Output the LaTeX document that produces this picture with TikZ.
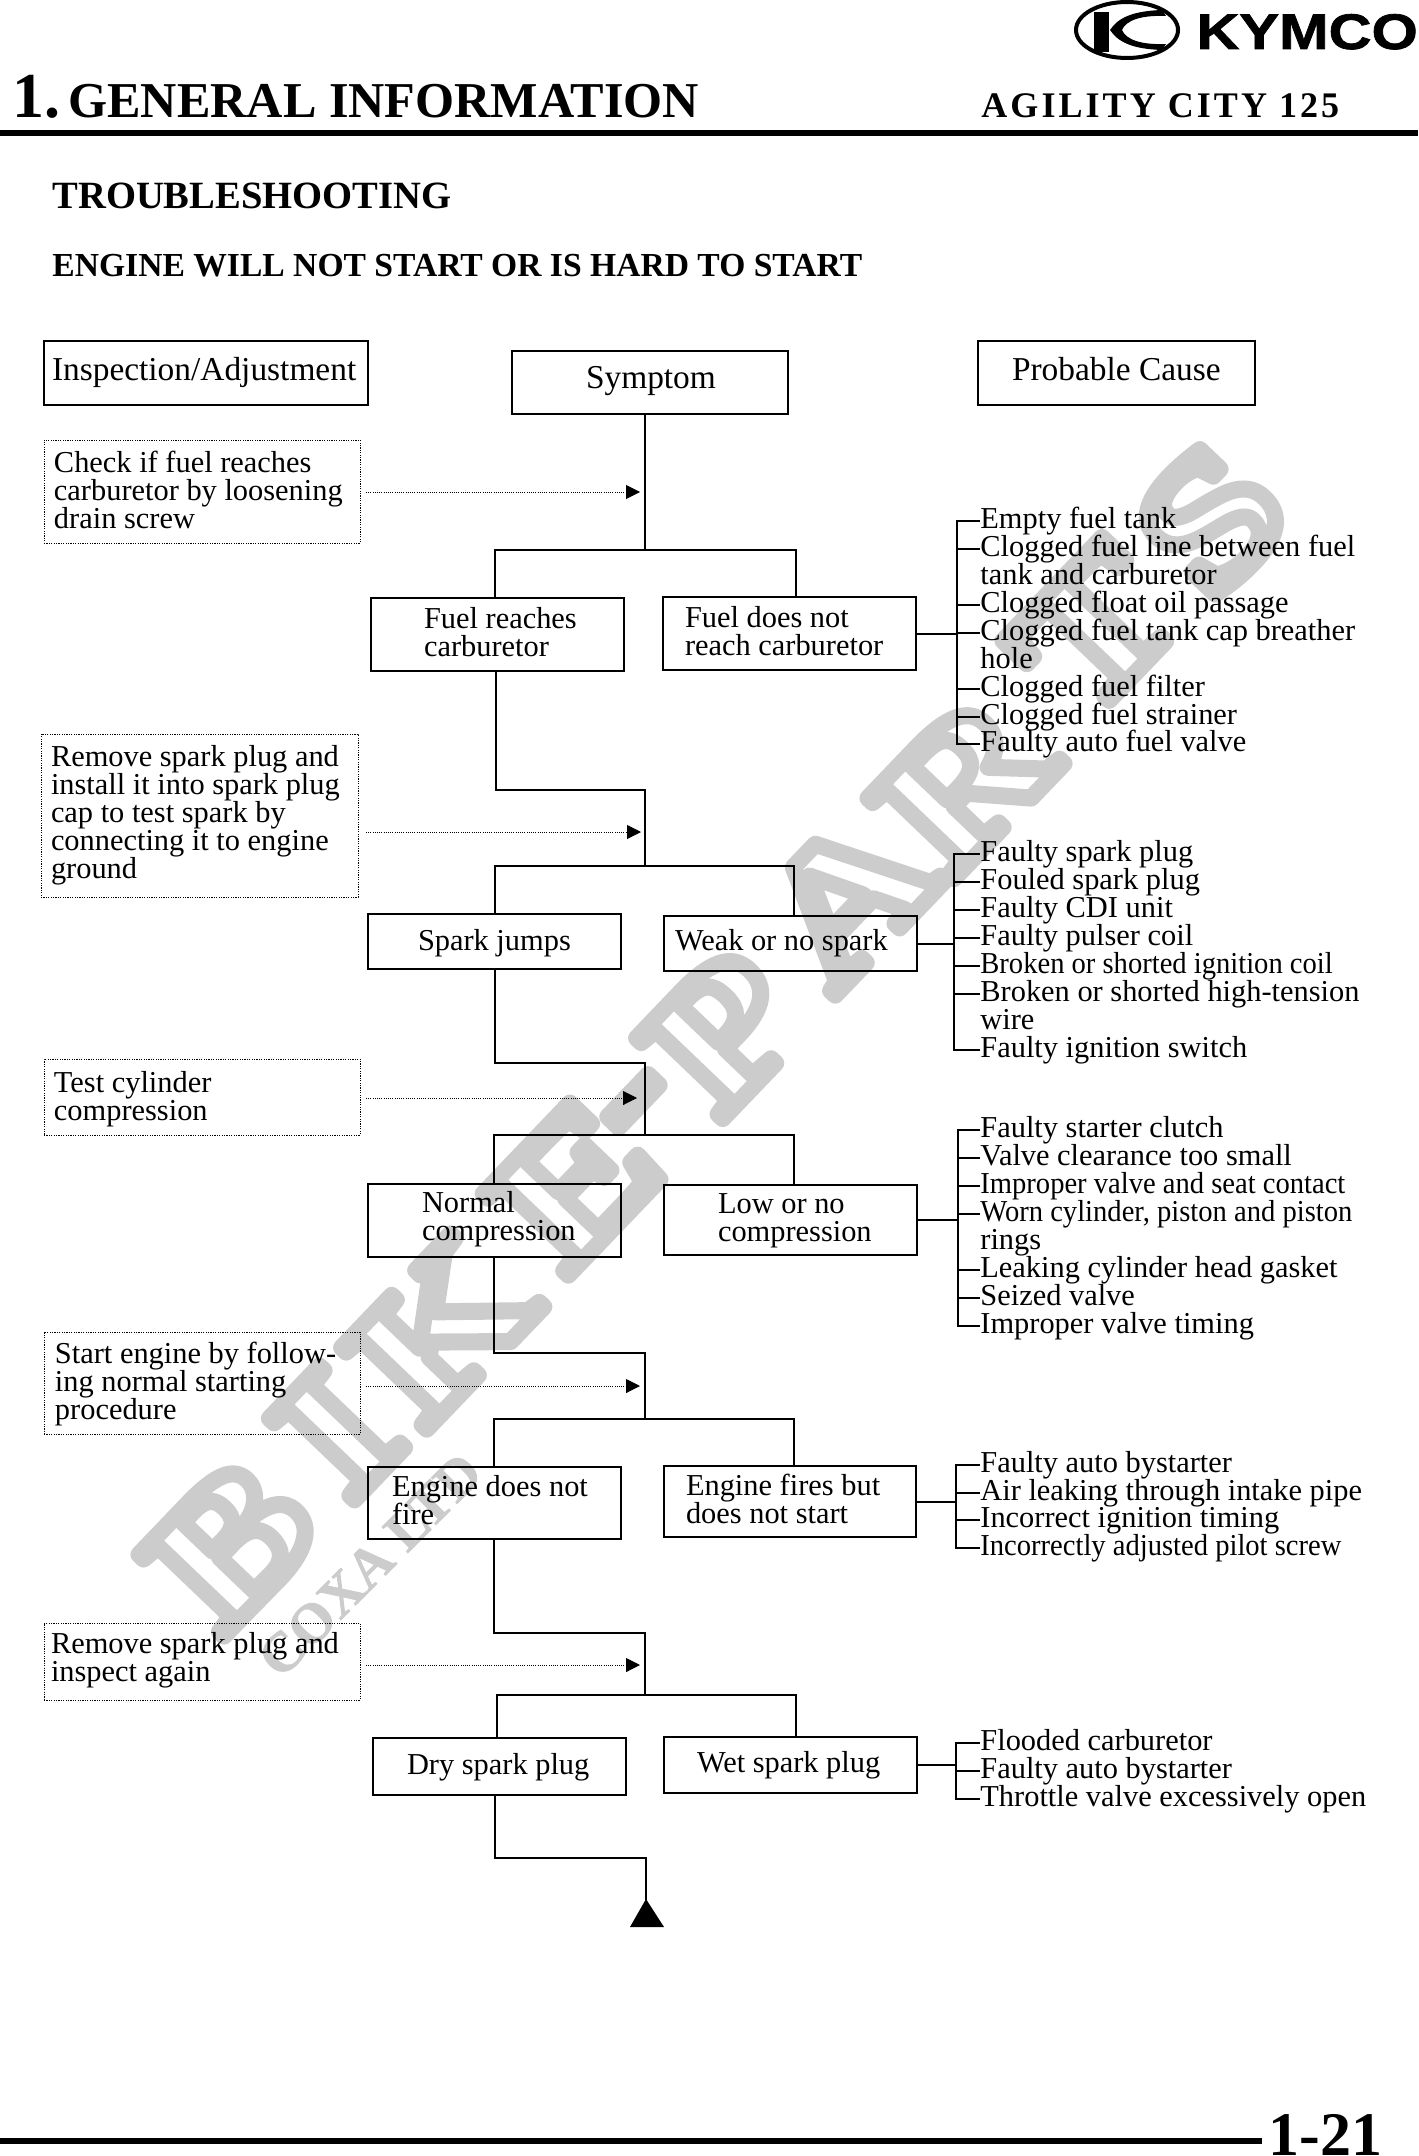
\documentclass[tikz,border=0pt]{standalone}
\usepackage{fontspec}
\usetikzlibrary{arrows.meta}
\setmainfont{Liberation Serif}
\newfontfamily\wmf[FakeStretch=1.25]{Liberation Serif Bold}
\newfontfamily\wsf[FakeBold=1.5]{Liberation Serif Bold}
\newfontfamily\lgf[FakeStretch=1.19,FakeBold=1.5]{Liberation Sans Bold}
\newfontfamily\lsf[LetterSpace=8.5]{Liberation Serif Bold}
\newfontfamily\cmpf[FakeStretch=0.94]{Liberation Serif}
\newcommand\fs{\fontsize{15.2}{14}\selectfont}
\newcommand\fh{\fontsize{16.7}{14}\selectfont}
\newcommand\cmp[1]{{\cmpf\fs #1}}
\definecolor{wmgray}{gray}{0.8}
\tikzset{
 x=0.5pt,y=-0.5pt,
 solidbox/.style={draw=black,line width=1.2pt,font=\fs},
 headbox/.style={draw=black,line width=1.2pt,font=\fh},
 dotbox/.style={draw=black,line width=0.5pt,dash pattern=on 0.6pt off 0.6pt,font=\fs},
 conn/.style={draw=black,line width=1pt,line cap=rect},
 tick/.style={draw=black,line width=0.9pt},
 dotarrow/.style={draw=black,line width=0.5pt,dash pattern=on 0.5pt off 0.6pt,-{Triangle[length=7pt,width=7pt]}},
 cause/.style={anchor=north west,inner sep=0pt,align=left,font=\fs},
 head/.style={anchor=base west,inner sep=0pt,font=\bfseries},
 wmk/.style={inner sep=0pt,rotate=46.25,text=wmgray,font=\wmf\fontsize{90}{90}\selectfont},
}
\newcommand\bx[9]{%
 \pgfmathsetmacro\bxW{(#5-#3)/2}\pgfmathsetmacro\bxH{(#6-#4)/2}%
 \pgfmathsetmacro\bxL{(#7-#3)/2}\pgfmathsetmacro\bxD{(#8-#4)/2}%
 \node[#1,anchor=north west,inner sep=0pt,outer sep=0pt] (#2) at (#3,#4)
  {\parbox[c][\bxH pt][t]{\bxW pt}{\noindent\hspace*{\bxL pt}\parbox[t]{300pt}{\lineskiplimit=-100pt\baselineskip=14pt\rule{0pt}{\bxD pt}#9}}};}
\newcommand\cz[3]{%
 \node[cause] (#1) at (980,{#2-20}) {\rule{0pt}{10.5pt}#3};
 \coordinate (t#1) at ([yshift=-7pt]#1.north west);
 \draw[tick] (t#1) -- (trunk |- t#1);}
\newcommand\wm[4]{\node[wmk] (#1) at (#2,#3) {\special{pdf:code 1 Tr 8.5 w 1 j 1 J 0.8 G}#4\special{pdf:code 0 Tr 1 w 0 j 0 J 0 G}};}
\begin{document}
\begin{tikzpicture}
\useasboundingbox (0,0) rectangle (1418,2156);
% watermark
\wm{wa}{231}{1544}{B}
\wm{wb}{337}{1433}{I}
\wm{wc}{442}{1328}{K}
\wm{wd}{575}{1183}{E}
\wm{we}{646}{1113}{-}
\wm{wf}{724}{1032}{P}
\wm{wg}{847}{897}{A}
\wm{wh}{964}{783}{R}
\wm{wi}{1095}{630}{T}
\wm{wj}{1211}{520}{S}
\node[inner sep=0pt,rotate=45,text=wmgray,font=\wsf\fontsize{28}{28}\selectfont] (wsub) at (370,1565) {COXA LTD};
% logo
\draw[line width=2pt] (1127,30) ellipse [x radius=51,y radius=28];
\fill (1094,12) rectangle (1109,52);
\fill (1110,30) .. controls (1118,18) and (1132,11) .. (1162,10) -- (1166,16) .. controls (1142,15) and (1126,20) .. (1122,30) .. controls (1126,40) and (1142,45) .. (1166,44) -- (1162,50) .. controls (1132,49) and (1118,42) .. (1110,30) -- cycle;
\node[anchor=base west,inner sep=0pt,font=\lgf\fontsize{25}{25}\selectfont] (kymco) at (1196,49) {KYMCO};
% titles
\node[head] (title) at (12,118) {\fontsize{32}{32}\selectfont 1.\hspace{4pt}\fontsize{25.1}{24}\selectfont GENERAL INFORMATION};
\node[anchor=base west,inner sep=0pt,font=\lsf\fontsize{18}{18}\selectfont] (model) at (981,118) {AGILITY CITY 125};
\coordinate (hl) at (0,133); \coordinate (hr) at (1418,133);
\draw[line width=2.7pt] (hl) -- (hr);
\node[head,font=\bfseries\fontsize{19.3}{18}\selectfont] (ts) at (52,209) {TROUBLESHOOTING};
\node[head,font=\bfseries\fontsize{16.8}{16}\selectfont] (en) at (52,277) {ENGINE WILL NOT START OR IS HARD TO START};
% headers
\bx{headbox}{insp}{44}{341}{368}{405}{52}{380}{Inspection/Adjustment}
\bx{headbox}{sym}{512}{351}{788}{414}{586}{388}{Symptom}
\bx{headbox}{prob}{978}{341}{1255}{405}{1012}{380}{Probable Cause}
% inspections
\bx{dotbox}{d1}{44}{440}{360}{543}{54}{472}{Check if fuel reaches\\carburetor by loosening\\drain screw}
\bx{dotbox}{d2}{41}{734}{358}{897}{51}{766}{Remove spark plug and\\install it into spark plug\\cap to test spark by\\connecting it to engine\\ground}
\bx{dotbox}{d3}{44}{1059}{360}{1135}{54}{1092}{Test cylinder\\compression}
\bx{dotbox}{d4}{44}{1332}{360}{1434}{55}{1363}{Start engine by follow-\\ing normal starting\\procedure}
\bx{dotbox}{d5}{44}{1623}{360}{1700}{51}{1653}{Remove spark plug and\\inspect again}
% symptoms
\bx{solidbox}{a1}{371}{598}{624}{671}{424}{628}{Fuel reaches\\carburetor}
\bx{solidbox}{b1}{663}{597}{916}{670}{685}{627}{Fuel does not\\reach carburetor}
\bx{solidbox}{a2}{368}{914}{621}{969}{418}{950}{Spark jumps}
\bx{solidbox}{b2}{664}{916}{917}{971}{675}{950}{Weak or no spark}
\bx{solidbox}{a3}{368}{1184}{621}{1257}{422}{1212}{Normal\\compression}
\bx{solidbox}{b3}{664}{1185}{917}{1255}{718}{1213}{Low or no\\compression}
\bx{solidbox}{a4}{368}{1467}{621}{1539}{392}{1496}{Engine does not\\fire}
\bx{solidbox}{b4}{664}{1466}{916}{1537}{686}{1495}{Engine fires but\\does not start}
\bx{solidbox}{a5}{373}{1738}{626}{1795}{407}{1774}{Dry spark plug}
\bx{solidbox}{b5}{664}{1737}{917}{1793}{697}{1772}{Wet spark plug}
% flow
\coordinate (m1) at (645,550); \coordinate (l1) at (495,550); \coordinate (r1) at (796,550);
\draw[conn] (m1 |- sym.south) -- (m1);
\draw[conn] (l1 |- a1.north) -- (l1) -- (r1) -- (r1 |- b1.north);
\coordinate (p2) at (496,790); \coordinate (m2) at (645,866); \coordinate (l2) at (495,866); \coordinate (r2) at (794,866);
\draw[conn] (p2 |- a1.south) -- (p2) -- (m2 |- p2) -- (m2);
\draw[conn] (l2 |- a2.north) -- (l2) -- (r2) -- (r2 |- b2.north);
\coordinate (p3) at (495,1063); \coordinate (m3) at (645,1135); \coordinate (l3) at (494,1135); \coordinate (r3) at (794,1135);
\draw[conn] (p3 |- a2.south) -- (p3) -- (m3 |- p3) -- (m3);
\draw[conn] (l3 |- a3.north) -- (l3) -- (r3) -- (r3 |- b3.north);
\coordinate (p4) at (494,1353); \coordinate (m4) at (645,1419); \coordinate (l4) at (494,1419); \coordinate (r4) at (794,1419);
\draw[conn] (p4 |- a3.south) -- (p4) -- (m4 |- p4) -- (m4);
\draw[conn] (l4 |- a4.north) -- (l4) -- (r4) -- (r4 |- b4.north);
\coordinate (p5) at (494,1633); \coordinate (m5) at (645,1695); \coordinate (l5) at (497,1695); \coordinate (r5) at (796,1695);
\draw[conn] (p5 |- a4.south) -- (p5) -- (m5 |- p5) -- (m5);
\draw[conn] (l5 |- a5.north) -- (l5) -- (r5) -- (r5 |- b5.north);
\coordinate (p6) at (495,1858); \coordinate (apex) at (646,1899);
\draw[conn] (p6 |- a5.south) -- (p6) -- (apex |- p6) -- (apex);
\fill (apex) -- (630,1927) -- (664,1927) -- cycle;
% dotted arrows
\coordinate (e1) at (640,492); \coordinate (e2) at (641,832); \coordinate (e3) at (637,1098); \coordinate (e4) at (640,1386); \coordinate (e5) at (640,1665);
\draw[dotarrow] ([xshift=3pt]d1.east |- e1) -- (e1);
\draw[dotarrow] ([xshift=4pt]d2.east |- e2) -- (e2);
\draw[dotarrow] ([xshift=3pt]d3.east |- e3) -- (e3);
\draw[dotarrow] ([xshift=3pt]d4.east |- e4) -- (e4);
\draw[dotarrow] ([xshift=3pt]d5.east |- e5) -- (e5);
% cause group 1
\coordinate (trunk) at (957,0);
\cz{c1}{527}{Empty fuel tank}
\cz{c2}{555}{Clogged fuel line between fuel\\tank and carburetor}
\cz{c3}{611}{Clogged float oil passage}
\cz{c4}{639}{Clogged fuel tank cap breather\\hole}
\cz{c5}{695}{Clogged fuel filter}
\cz{c6}{723}{Clogged fuel strainer}
\cz{c7}{750}{Faulty auto fuel valve}
\draw[conn] (trunk |- tc1) -- (trunk |- tc7);
\draw[conn] (b1.east) -- (trunk |- b1.east);
% cause group 2
\coordinate (trunk) at (954,0);
\cz{f1}{860}{Faulty spark plug}
\cz{f2}{888}{Fouled spark plug}
\cz{f3}{916}{Faulty CDI unit}
\cz{f4}{944}{Faulty pulser coil}
\cz{f5}{972}{\cmp{Broken or shorted ignition coil}}
\cz{f6}{1000}{Broken or shorted high-tension\\wire}
\cz{f7}{1056}{Faulty ignition switch}
\draw[conn] (trunk |- tf1) -- (trunk |- tf7);
\draw[conn] (b2.east) -- (trunk |- b2.east);
% cause group 3
\coordinate (trunk) at (958,0);
\cz{g1}{1136}{Faulty starter clutch}
\cz{g2}{1164}{Valve clearance too small}
\cz{g3}{1192}{\cmp{Improper valve and seat contact}}
\cz{g4}{1220}{\cmp{Worn cylinder, piston and piston}\\rings}
\cz{g5}{1276}{Leaking cylinder head gasket}
\cz{g6}{1304}{Seized valve}
\cz{g7}{1332}{Improper valve timing}
\draw[conn] (trunk |- tg1) -- (trunk |- tg7);
\draw[conn] (b3.east) -- (trunk |- b3.east);
% cause group 4
\coordinate (trunk) at (956,0);
\cz{h1}{1471}{Faulty auto bystarter}
\cz{h2}{1499}{Air leaking through intake pipe}
\cz{h3}{1526}{Incorrect ignition timing}
\cz{h4}{1554}{\cmp{Incorrectly adjusted pilot screw}}
\draw[conn] (trunk |- th1) -- (trunk |- th4);
\draw[conn] (b4.east) -- (trunk |- b4.east);
% cause group 5
\coordinate (trunk) at (956,0);
\cz{k1}{1749}{Flooded carburetor}
\cz{k2}{1777}{Faulty auto bystarter}
\cz{k3}{1805}{Throttle valve excessively open}
\draw[conn] (trunk |- tk1) -- (trunk |- tk3);
\draw[conn] (b5.east) -- (trunk |- b5.east);
% footer
\coordinate (fl) at (0,2141); \coordinate (fr) at (1262,2141);
\draw[line width=2.7pt] (fl) -- (fr);
\node[head,font=\bfseries\fontsize{31}{30}\selectfont] (pg) at (1268,2155) {1-21};
\end{tikzpicture}
\end{document}
